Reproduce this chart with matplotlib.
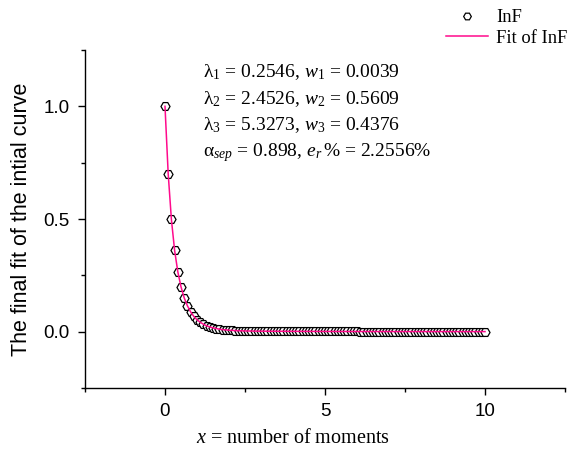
import matplotlib
matplotlib.use("Agg")
import matplotlib.pyplot as plt
from matplotlib.lines import Line2D
from matplotlib.ticker import MultipleLocator

x_moments = [0.0, 0.1, 0.2, 0.3, 0.4, 0.5, 0.6, 0.7, 0.8, 0.9,
             1.0, 1.1, 1.2, 1.3, 1.4, 1.5, 1.6, 1.7, 1.8, 1.9,
             2.0, 2.1, 2.2, 2.3, 2.4, 2.5, 2.6, 2.7, 2.8, 2.9,
             3.0, 3.1, 3.2, 3.3, 3.4, 3.5, 3.6, 3.7, 3.8, 3.9,
             4.0, 4.1, 4.2, 4.3, 4.4, 4.5, 4.6, 4.7, 4.8, 4.9,
             5.0, 5.1, 5.2, 5.3, 5.4, 5.5, 5.6, 5.7, 5.8, 5.9,
             6.0, 6.1, 6.2, 6.3, 6.4, 6.5, 6.6, 6.7, 6.8, 6.9,
             7.0, 7.1, 7.2, 7.3, 7.4, 7.5, 7.6, 7.7, 7.8, 7.9,
             8.0, 8.1, 8.2, 8.3, 8.4, 8.5, 8.6, 8.7, 8.8, 8.9,
             9.0, 9.1, 9.2, 9.3, 9.4, 9.5, 9.6, 9.7, 9.8, 9.9, 10.0]

inf_values = [1.000, 0.700, 0.498, 0.361, 0.266, 0.199, 0.150, 0.115, 0.088, 0.068,
              0.053, 0.042, 0.033, 0.026, 0.021, 0.017, 0.014, 0.011, 0.009, 0.008,
              0.0065, 0.0056, 0.0047, 0.0042, 0.0037, 0.0033, 0.0030, 0.0028, 0.0025, 0.0024,
              0.0022, 0.0021, 0.0020, 0.0019, 0.0019, 0.0018, 0.0017, 0.0017, 0.0016, 0.0016,
              0.0015, 0.0015, 0.0014, 0.0014, 0.0013, 0.0013, 0.0012, 0.0012, 0.0012, 0.0011,
              0.0011, 0.0010, 0.0010, 0.0010, 0.0009, 0.0009, 0.0009, 0.0008, 0.0008, 0.0008,
              0.0008, 0.0007, 0.0007, 0.0007, 0.0007, 0.0006, 0.0006, 0.0006, 0.0006, 0.0006,
              0.0006, 0.0005, 0.0005, 0.0005, 0.0005, 0.0005, 0.0005, 0.0005, 0.0005, 0.0005,
              0.0005, 0.0005, 0.0004, 0.0004, 0.0004, 0.0004, 0.0004, 0.0004, 0.0004, 0.0004,
              0.0004, 0.0004, 0.0004, 0.0004, 0.0003, 0.0003, 0.0003, 0.0003, 0.0003, 0.0003, 0.0003]

fit_values = inf_values

annotation_lines = [
    "λ$_1$ = 0.2546, $w_1$ = 0.0039",
    "λ$_2$ = 2.4526, $w_2$ = 0.5609",
    "λ$_3$ = 5.3273, $w_3$ = 0.4376",
    "α$_{sep}$ = 0.898, $e_r\\,$% = 2.2556%",
]

plt.rcParams['mathtext.fontset'] = 'custom'
plt.rcParams['mathtext.rm'] = 'Liberation Serif'
plt.rcParams['mathtext.it'] = 'Liberation Serif:italic'

serif = 'Liberation Serif'
sans = 'Liberation Sans'
pink = '#ff0a8c'

fig = plt.figure(figsize=(5.71, 4.49), dpi=100)
ax = fig.add_axes([85/571, 61/449, 480/571, 338/449])

ax.plot(x_moments, inf_values, linestyle='none', marker='H', markersize=6.5,
        markerfacecolor='white', markeredgecolor='black', markeredgewidth=0.9, zorder=2)
ax.plot(x_moments, fit_values, color=pink, linewidth=1.1, zorder=3)

ax.set_xlim(-2.5, 12.5)
ax.set_ylim(-0.25, 1.25)
ax.spines['top'].set_visible(False)
ax.spines['right'].set_visible(False)
for s in ['left', 'bottom']:
    ax.spines[s].set_linewidth(1.0)
ax.xaxis.set_minor_locator(MultipleLocator(2.5))
ax.yaxis.set_minor_locator(MultipleLocator(0.25))
ax.set_xticks([0, 5, 10])
ax.set_xticklabels(['0', '5', '10'])
ax.set_yticks([0.0, 0.5, 1.0])
ax.set_yticklabels(['0.0', '0.5', '1.0'])
ax.tick_params(which='major', direction='out', length=5, width=1, labelsize=13.5, pad=6)
ax.tick_params(which='minor', direction='out', length=3, width=1)
for lab in ax.get_xticklabels() + ax.get_yticklabels():
    lab.set_fontfamily(sans)

ax.set_xlabel("$x$ = number of moments", fontsize=14.5, fontfamily=serif)
ax.xaxis.set_label_coords((293 - 85) / 480, -41 / 338)
ax.set_ylabel("The final fit of the intial curve", fontsize=15.5, fontfamily=sans, labelpad=8)

for i, line in enumerate(annotation_lines):
    fig.text(203/571, 1 - (72 + i*26.7)/449, line, fontsize=14, fontfamily=serif,
             va='center', ha='left')

handles = [
    Line2D([], [], linestyle='none', marker='H', markersize=5.5, markerfacecolor='white',
           markeredgecolor='black', markeredgewidth=0.9),
    Line2D([], [], color=pink, linewidth=1.1),
]
fig.legend(handles, ['InF', 'Fit of InF'], loc='upper right',
           bbox_to_anchor=(1.012, 1.002), frameon=False,
           prop={'family': serif, 'size': 13.3}, handlelength=2.3,
           handletextpad=0.45, labelspacing=0.2, borderaxespad=0.15)

fig.savefig('out.png', dpi=100)
